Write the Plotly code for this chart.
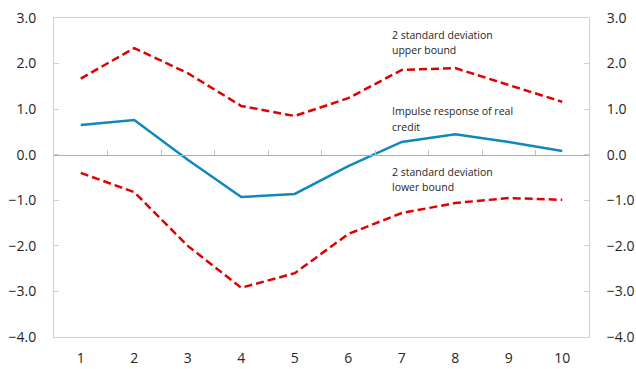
import plotly.graph_objects as go

periods = [1, 2, 3, 4, 5, 6, 7, 8, 9, 10]
upper_bound = [1.67, 2.34, 1.79, 1.07, 0.85, 1.24, 1.86, 1.90, 1.53, 1.16]
impulse = [0.65, 0.76, -0.11, -0.93, -0.86, -0.25, 0.28, 0.45, 0.28, 0.08]
lower_bound = [-0.40, -0.82, -2.00, -2.92, -2.60, -1.74, -1.28, -1.06, -0.95, -0.99]
y_ticks = [-4, -3, -2, -1, 0, 1, 2, 3]
boundary_ticks = [1.5, 2.5, 3.5, 4.5, 5.5, 6.5, 7.5, 8.5, 9.5]

RED = "#E00000"
BLUE = "#1088BC"
FONT = "Open Sans"

fig = go.Figure()
fig.add_trace(go.Scatter(x=periods, y=upper_bound, mode="lines",
                         line=dict(color=RED, width=2.5, dash="8px,4px"), showlegend=False))
fig.add_trace(go.Scatter(x=periods, y=lower_bound, mode="lines",
                         line=dict(color=RED, width=2.5, dash="8px,4px"), showlegend=False))
fig.add_trace(go.Scatter(x=periods, y=impulse, mode="lines",
                         line=dict(color=BLUE, width=2.5), showlegend=False))
# invisible helper trace for the zero-line axis
fig.add_trace(go.Scatter(x=[periods[0]], y=[0], xaxis="x2", mode="markers",
                         marker=dict(opacity=0), showlegend=False, hoverinfo="skip"))
# invisible helper trace for the right axis
fig.add_trace(go.Scatter(x=[periods[0]], y=[0], yaxis="y2", mode="markers",
                         marker=dict(opacity=0), showlegend=False, hoverinfo="skip"))

axis_font = dict(family=FONT, size=14, color="#262626")
fig.update_layout(
    width=636, height=369,
    margin=dict(l=54, r=47, t=18, b=32),
    plot_bgcolor="white", paper_bgcolor="white",
    font=dict(family=FONT),
    xaxis=dict(range=[0.5, 10.5], tickvals=periods, ticktext=[str(p) for p in periods],
               showgrid=False, zeroline=False, showline=True, linecolor="#D0D0D0",
               linewidth=1, mirror=True, ticks="", tickfont=axis_font, automargin=False,
               ticklabelstandoff=8),
    xaxis2=dict(range=[0.5, 10.5], overlaying="x", anchor="free", position=4 / 7,
                tickvals=boundary_ticks, showticklabels=False, ticks="inside",
                ticklen=5, tickcolor="#BFBFBF", showgrid=False, zeroline=False,
                showline=True, linecolor="#AFAFAF", linewidth=1, automargin=False),
    yaxis=dict(range=[-4, 3], tickvals=y_ticks, tickformat=".1f", showgrid=False,
               zeroline=False, showline=True, linecolor="#D0D0D0", ticks="inside",
               ticklen=5, tickcolor="#D0D0D0", tickfont=axis_font, ticklabelstandoff=14,
               automargin=False),
    yaxis2=dict(range=[-4, 3], tickvals=y_ticks, tickformat=".1f", overlaying="y",
                side="right", showgrid=False, zeroline=False, showline=True,
                linecolor="#D0D0D0", ticks="inside", ticklen=5, tickcolor="#D0D0D0",
                tickfont=axis_font, ticklabelstandoff=14, automargin=False),
)

ann_font = dict(family=FONT, size=10.5, color="#262626")
labels = [("2 standard deviation", 2.63), ("upper bound", 2.30),
          ("Impulse response of real", 0.96), ("credit", 0.61),
          ("2 standard deviation", -0.38), ("lower bound", -0.71)]
for text, yv in labels:
    fig.add_annotation(x=6.78, y=yv, xref="x", yref="y", text=text, showarrow=False,
                       xanchor="left", yanchor="middle", align="left", font=ann_font)

fig.write_html("out.html", config={"displayModeBar": False},
               post_script="document.body.style.margin='0';document.body.style.padding='0';")
